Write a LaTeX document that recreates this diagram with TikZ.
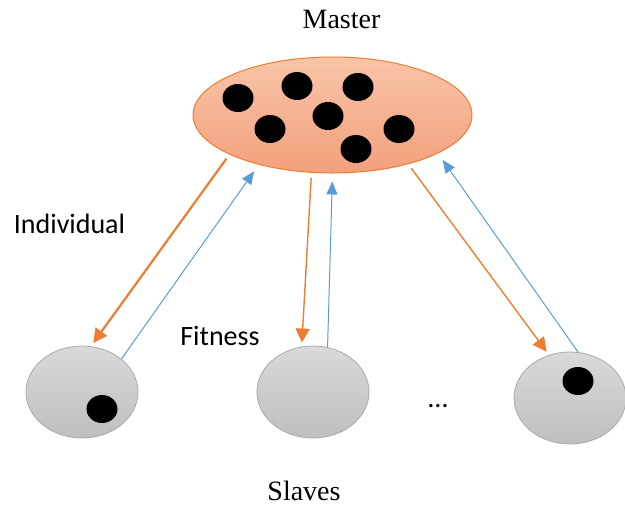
\documentclass[tikz,border=0pt]{standalone}
\usepackage{fontspec}
\setmainfont{Liberation Serif}
\newfontfamily\calibri{Carlito}
\usetikzlibrary{shapes.geometric,arrows.meta}
\definecolor{sendcol}{HTML}{ED7D31}
\definecolor{backcol}{HTML}{5B9BD5}
\definecolor{mastertop}{HTML}{F8C4A8}
\definecolor{masterbot}{HTML}{F3A07C}
\definecolor{slavetop}{HTML}{D9D9D9}
\definecolor{slavebot}{HTML}{BFBFBF}
\definecolor{slaveline}{HTML}{A9A9A9}

\begin{document}
\begin{tikzpicture}[x=1pt,y=-1pt]
        \tikzstyle{master}=[ellipse, draw=sendcol, line width=1pt, top color=mastertop, bottom color=masterbot, minimum width=279pt, minimum height=116pt, inner sep=0pt]
        \tikzstyle{slave}=[ellipse, draw=slaveline, line width=0.8pt, top color=slavetop, bottom color=slavebot, minimum width=112pt, minimum height=92pt, inner sep=0pt]
        \tikzstyle{dot}=[ellipse, fill=black, minimum width=31pt, minimum height=28pt, inner sep=0pt]
        \tikzstyle{send}=[draw=sendcol, line width=1.4pt, -{Triangle[length=14pt,width=14pt]}, shorten <=5pt, shorten >=4pt]
        \tikzstyle{back}=[draw=backcol, line width=1pt, -{Triangle[length=13pt,width=11pt]}, shorten >=8pt]
        \tikzstyle{label}=[inner sep=0pt, anchor=base, font=\fontsize{28}{30}\selectfont]
        \tikzstyle{sans}=[font=\calibri\fontsize{28}{30}\selectfont]
        \useasboundingbox (0,0) rectangle (625,507);

            \node[master](master) at (332.5,115){};
            \node[slave](s1) at (82,392){};
            \node[slave](s2) at (313,392){};
            \node[slave](s3) at (570,398){};

            \foreach \n/\x/\y in {1/238/98, 2/297/86, 3/358/87, 4/328/116, 5/270/129, 6/399/129, 7/356/149}
            \node[dot](m\n) at (\x,\y){};

            \node[dot](d1) at (102,409){};
            \node[dot](d3) at (578,381){};

            \node[label](title) at (341.5,28) {Master};
            \node[label](slaves) at (304,500) {Slaves};
            \node[label, sans](ind) at (69.5,233) {Individual};
            \node[label, sans](fit) at (220,345) {Fitness};
            \node[label, sans](more) at (438,407) {…};

            \draw[send, line width=2.2pt] (master.201) -- (s1.79);
            \draw[back] (s1.40) -- (master.214);

            \draw[send] (master.250) -- (s2.104);
            \draw[back] (s2.72) -- (master.270);

            \draw[send] (master.327) -- (s3.116);
            \draw[back] (s3.80) -- (master.340);

        \end{tikzpicture}
\end{document}
